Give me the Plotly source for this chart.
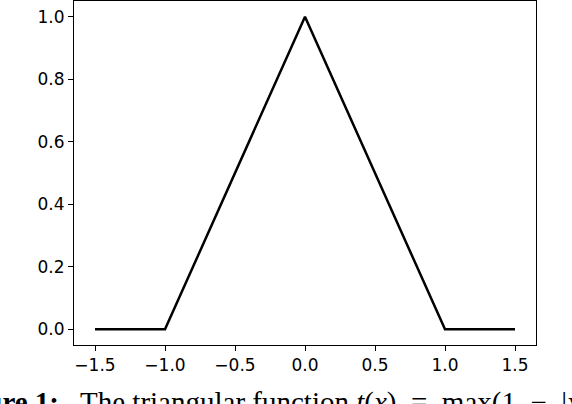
import plotly.graph_objects as go

x_vals = [-1.5, -1.0, 0.0, 1.0, 1.5]
y_vals = [0.0, 0.0, 1.0, 0.0, 0.0]
x_ticks = [-1.5, -1.0, -0.5, 0.0, 0.5, 1.0, 1.5]
x_tick_text = ["\u22121.5", "\u22121.0", "\u22120.5", "0.0", "0.5", "1.0", "1.5"]
y_ticks = [0.0, 0.2, 0.4, 0.6, 0.8, 1.0]

fig = go.Figure(
    go.Scatter(x=x_vals, y=y_vals, mode="lines", line={"color": "black", "width": 2.5})
)

axis_style = dict(
    showline=True, linecolor="black", linewidth=1, mirror=True,
    ticks="outside", ticklen=5, tickwidth=1, tickcolor="black",
    showgrid=False, zeroline=False,
    tickfont={"family": "DejaVu Sans", "size": 17, "color": "black"},
)

fig.update_layout(
    width=572, height=404,
    margin={"l": 74, "r": 36, "t": 1, "b": 59},
    paper_bgcolor="white", plot_bgcolor="white",
    showlegend=False,
    xaxis=dict(range=[-1.65, 1.65], tickvals=x_ticks, ticktext=x_tick_text, **axis_style),
    yaxis=dict(range=[-0.05, 1.05], tickvals=y_ticks, tickformat=".1f", **axis_style),
)

# caption below the chart, partly cut by the picture edge as in the source
cap_font = {"family": "Liberation Serif", "size": 29, "color": "black"}
cap_y = -(384 - 345) / 344
fig.add_annotation(
    text="<b>Figure 1:</b>", xref="paper", yref="paper",
    x=(61 - 74) / 462, y=cap_y, xanchor="right", yanchor="top",
    showarrow=False, font=cap_font,
)
fig.add_annotation(
    text="The triangular function <i>t</i>(<i>x</i>)  =  max(1  \u2212  |<i>x</i>|, 0).",
    xref="paper", yref="paper",
    x=(78 - 74) / 462, y=cap_y, xanchor="left", yanchor="top",
    showarrow=False, font=cap_font,
)

fig.write_html("out.html", config={"displayModeBar": False})

with open("out.html", encoding="utf-8") as fh:
    page = fh.read()
page = page.replace("<head>", "<head><style>html,body{margin:0;padding:0;overflow:hidden}</style>", 1)
with open("out.html", "w", encoding="utf-8") as fh:
    fh.write(page)
